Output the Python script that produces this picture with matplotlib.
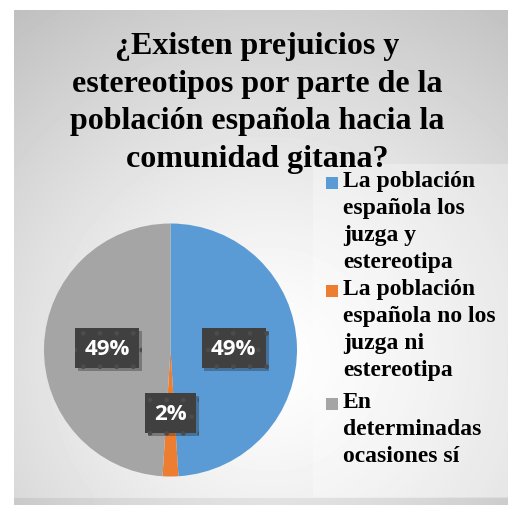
import numpy as np
import matplotlib.pyplot as plt
from matplotlib.patches import Rectangle
import matplotlib.patheffects as pe

categories = ['La población\nespañola los\njuzga y\nestereotipa',
              'La población\nespañola no los\njuzga ni\nestereotipa',
              'En\ndeterminadas\nocasiones sí']
values = [49, 2, 49]
colors = ['#5B9BD5', '#ED7D31', '#A5A5A5']
title = '¿Existen prejuicios y\nestereotipos por parte de la\npoblación española hacia la\ncomunidad gitana?'

SERIF = ['Liberation Serif', 'DejaVu Serif']
W, H = 508, 506
fig = plt.figure(figsize=(W / 100, H / 100), dpi=100)
fig.patch.set_facecolor('white')

# fondo con degradado radial
bg = fig.add_axes([14 / W, 0, 1 - 14 / W, 1 - 11 / H])
bg.set_axis_off()
xx, yy = np.meshgrid(np.arange(14, W), np.arange(11, H))
d = np.hypot(xx - 270, yy - 360)
g = 1 - 0.25 * (d / d.max()) ** 1.3
g[yy > 498] -= 0.06
bg.imshow(g, cmap='gray', vmin=0, vmax=1, aspect='auto',
          extent=(0, 1, 0, 1), interpolation='bilinear')
bg.set_xlim(0, 1)
bg.set_ylim(0, 1)
bg.add_patch(Rectangle(((313 - 14) / (W - 14), (506 - 498) / (H - 11)),
                       1, (498 - 165) / (H - 11), facecolor='white',
                       alpha=0.3, edgecolor='none', transform=bg.transAxes))

# pastel
cx, cy, r = 170.5, 351, 126.5
ax = fig.add_axes([(cx - r) / W, (H - cy - r) / H, 2 * r / W, 2 * r / H])
wedges, texts, autotexts = ax.pie(values, colors=colors, startangle=90,
                                  counterclock=False, autopct='%1.0f%%',
                                  pctdistance=0.5,
                                  textprops=dict(color='white', fontsize=16,
                                                 fontweight='bold',
                                                 family=['Open Sans']))
ax.set_xlim(-1, 1)
ax.set_ylim(-1, 1)
for t in autotexts:
    t.set_bbox(dict(boxstyle='square,pad=0.42', facecolor='#404040',
                    edgecolor='#4c4c4c', linewidth=0))
    bp = t.get_bbox_patch()
    bp.set_hatch('.')
    bp.set_path_effects([pe.SimplePatchShadow(offset=(2, -2), alpha=0.3),
                         pe.Normal()])

# título
fig.text(257 / W, 1 - 103 / H, title, ha='center', va='center',
         fontsize=23, fontweight='bold', family=SERIF, linespacing=1.38)

# leyenda
baselines = [190, 298, 411]
for lab, col, yb in zip(categories, colors, baselines):
    fig.patches.append(Rectangle((326 / W, (H - yb) / H), 12 / W, 12 / H,
                                 facecolor=col, edgecolor='none',
                                 transform=fig.transFigure, figure=fig))
    fig.text(343 / W, 1 - (yb - 19) / H, lab, ha='left', va='top',
             fontsize=17, fontweight='bold', family=SERIF,
             linespacing=1.38)

fig.savefig('out.png', dpi=100)
